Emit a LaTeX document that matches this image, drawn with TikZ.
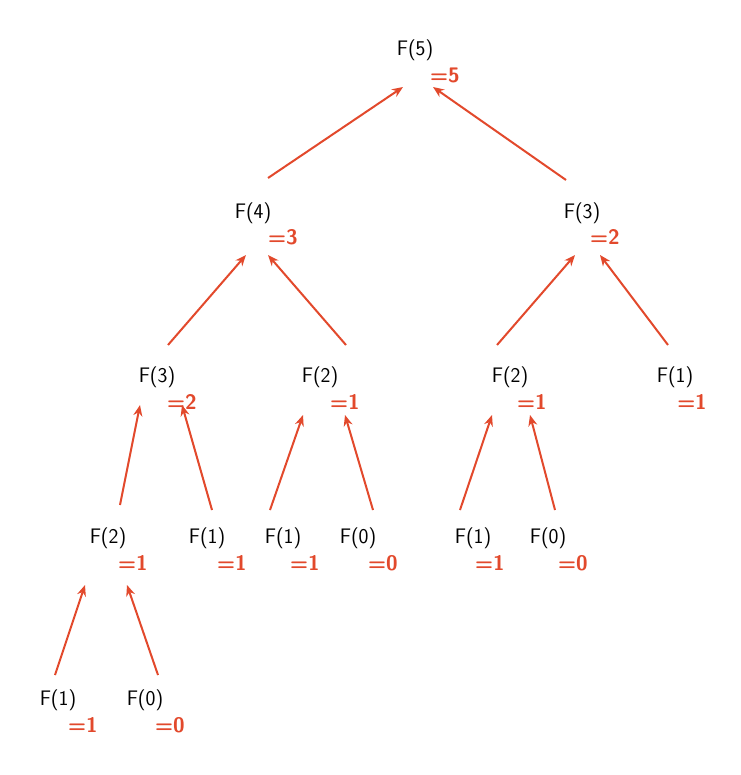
\documentclass[tikz,border=0pt]{standalone}
\usepackage{fontspec}
\setmainfont{Poppins}
\usetikzlibrary{calc,arrows.meta}
\definecolor{rd}{HTML}{E2492C}
\begin{document}
\begin{tikzpicture}[x=1pt,y=-1pt,
  f/.style={font=\fontsize{21}{21}\selectfont\sffamily, inner sep=0pt},
  v/.style={font=\fontsize{21}{21}\selectfont\sffamily\bfseries, text=rd, inner sep=0pt},
  ar/.style={draw=rd, line width=2pt, -{Stealth[length=11pt,width=9pt]}}]
\useasboundingbox (0,0) rectangle (740,775);
\newcommand\fn[4]{\node[f] (#1) at (#2,#3) {F(#4)};}
\newcommand\vn[4]{\node[v] (#1) at (#2,#3) {=#4};}
\fn{a}{415}{50}{5} \vn{av}{445}{75}{5}
\fn{b}{253}{213}{4} \vn{bv}{283}{237}{3}
\fn{c}{582}{213}{3} \vn{cv}{605}{237}{2}
\fn{d}{157}{377}{3} \vn{dv}{182}{402}{2}
\fn{e}{320}{377}{2} \vn{ev}{345}{402}{1}
\fn{g}{510}{377}{2} \vn{gv}{532}{402}{1}
\fn{h}{675}{377}{1} \vn{hv}{692}{402}{1}
\fn{i}{108}{538}{2} \vn{iv}{133}{563}{1}
\fn{j}{207}{538}{1} \vn{jv}{232}{563}{1}
\fn{k}{283}{538}{1} \vn{kv}{305}{563}{1}
\fn{l}{358}{538}{0} \vn{lv}{383}{563}{0}
\fn{m}{473}{538}{1} \vn{mv}{490}{563}{1}
\fn{n}{548}{538}{0} \vn{nv}{573}{563}{0}
\fn{o}{58}{700}{1} \vn{ov}{83}{725}{1}
\fn{p}{145}{700}{0} \vn{pv}{170}{725}{0}
\newcommand\ed[6]{\draw[ar] ($(#1)+(#2,#3)$) -- ($(#4)+(#5,#6)$);}
\ed{b}{15}{-35}{a}{-12}{37}
\ed{c}{-16}{-33}{a}{18}{37}
\ed{d}{11}{-32}{b}{-7}{42}
\ed{e}{26}{-32}{b}{15}{42}
\ed{g}{-13}{-32}{c}{-7}{42}
\ed{h}{-7}{-32}{c}{18}{42}
\ed{i}{12}{-33}{d}{-17}{28}
\ed{j}{5}{-28}{d}{25}{28}
\ed{k}{-13}{-28}{e}{-17}{38}
\ed{l}{15}{-28}{e}{25}{38}
\ed{m}{-13}{-28}{g}{-18}{38}
\ed{n}{7}{-28}{g}{20}{38}
\ed{o}{-3}{-25}{i}{-23}{47}
\ed{p}{13}{-25}{i}{19}{47}
\end{tikzpicture}
\end{document}
